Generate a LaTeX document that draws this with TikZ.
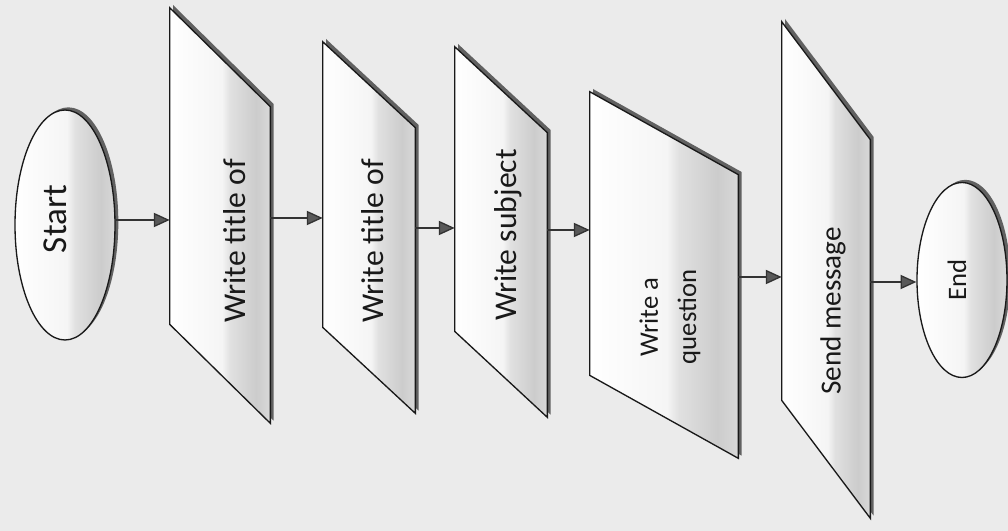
\documentclass[tikz,border=0pt]{standalone}
\usepackage{fontspec}
\setmainfont{Carlito}
\usetikzlibrary{shapes.geometric, calc, arrows.meta, shadows}

\pgfdeclarehorizontalshading{printgray}{100bp}{color(0bp)=(white); color(25bp)=(white); color(51bp)=(white!96!black); color(55bp)=(black!12); color(68bp)=(black!20); color(75bp)=(black!15); color(100bp)=(black!15)}

\tikzset{
  paper/.style={draw=black!90, thick, shade, shading=printgray,
    drop shadow={shadow xshift=2pt, shadow yshift=1.6pt, fill=black!62, opacity=1}},
  stepbox/.style={rectangle, inner sep=0pt},
  term/.style={ellipse, paper, inner sep=0pt},
  steptext/.style={rotate=90, align=center, text=black!90, font=\fontsize{19}{23}\selectfont},
  arr/.style={draw=black!80, thick, -{Triangle[length=9.5pt, width=8.5pt, fill=black!65]}}
}

\begin{document}
\begin{tikzpicture}[x=0.6pt, y=-0.6pt]

% Paper and frame
\fill[black!8] (0,0) rectangle (1008,531);
\useasboundingbox (0,0) rectangle (1008,531);

% Start and end
\node[term, minimum width=60pt, minimum height=138pt] (start) at (65,225) {};
\node[term, minimum width=54pt, minimum height=117pt] (stop) at (962,280) {};

% Boxes of the steps
\node[stepbox, minimum width=60pt, minimum height=249pt] (w1) at (220,215.5) {};
\node[stepbox, minimum width=55.2pt, minimum height=222.6pt] (w2) at (369,227.5) {};
\node[stepbox, minimum width=55.2pt, minimum height=222pt] (w3) at (501,232) {};
\node[stepbox, minimum width=88.8pt, minimum height=219.6pt] (w4) at (664,275) {};
\node[stepbox, minimum width=52.8pt, minimum height=297.6pt] (w5) at (826,270) {};

% Slanted sheets round the boxes
\foreach \n/\d in {w1/99, w2/86, w3/86, w4/83, w5/118}
  \path[paper] (\n.north west) -- ($(\n.north east)+(0,\d)$) -- (\n.south east)
    -- ($(\n.south west)-(0,\d)$) -- cycle;

% Texts
\node[steptext, font=\fontsize{21}{25}\selectfont] (tstart) at (55,219) {Start};
\node[steptext] (t1) at (235,241) {Write title of};
\node[steptext] (t2) at (373,241) {Write title of};
\node[steptext] (t3) at (508,235) {Write subject};
\node[steptext, font=\fontsize{16}{23}\selectfont] (t4) at (670,317) {Write a\\question};
\node[steptext, font=\fontsize{17.5}{21}\selectfont] (t5) at (833,311) {Send message};
\node[steptext, font=\fontsize{16}{20}\selectfont] (tstop) at (957,280) {End};

% Arrows between the steps
\foreach \a/\b/\y in {start/w1/220, w1/w2/218, w2/w3/228, w3/w4/230, w4/w5/277, w5/stop/282}
  \draw[arr] (\a.east |- 0,\y) -- (\b.west |- 0,\y);

\end{tikzpicture}
\end{document}
